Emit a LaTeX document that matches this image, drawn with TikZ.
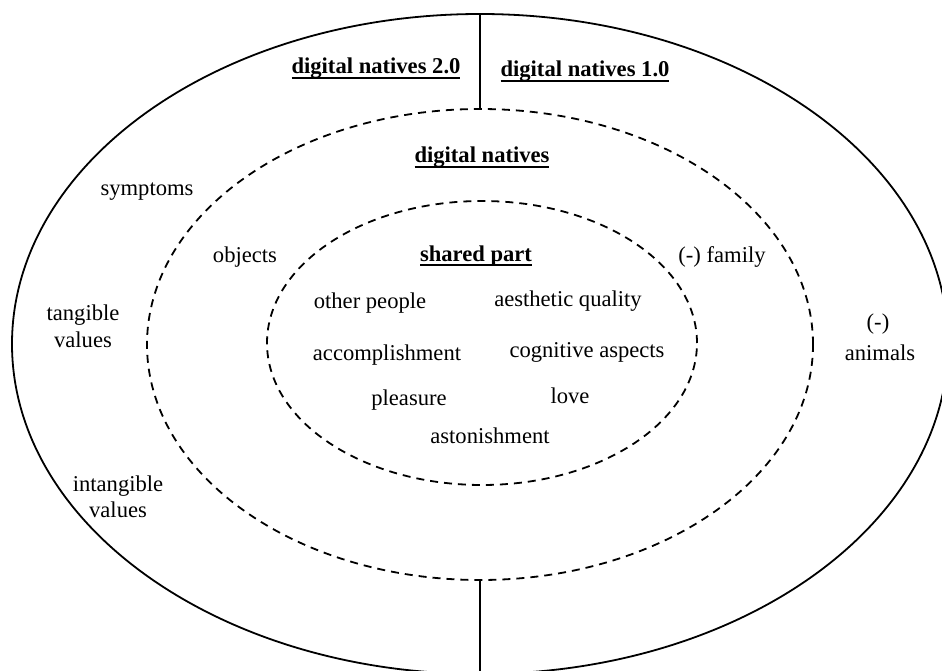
\documentclass[tikz,border=0pt]{standalone}
\usepackage{fontspec}
\setmainfont{Liberation Serif}
\usetikzlibrary{shapes.geometric}
\begin{document}
\begin{tikzpicture}[x=1pt,y=-1pt,
  every node/.style={inner sep=0pt, outer sep=0pt},
  lbl/.style={anchor=base, font=\fontsize{22.6}{27}\selectfont},
  ttl/.style={anchor=base, font=\fontsize{22.6}{27}\selectfont\bfseries},
  solidell/.style={ellipse, draw, line width=1.8pt},
  dashell/.style={ellipse, draw, line width=1.8pt, dash pattern=on 8pt off 6pt},
  divider/.style={line width=1.8pt},
  uline/.style={line width=2pt}]
\useasboundingbox (0,0) rectangle (942,671);
\node[solidell, minimum width=936pt, minimum height=660pt] (outer) at (480,344) {};
\node[dashell, minimum width=666pt, minimum height=471pt] (middle) at (480,344.5) {};
\node[dashell, minimum width=430pt, minimum height=284pt] (inner) at (482,343) {};
\draw[divider] (outer.north) -- (middle.north);
\draw[divider] (middle.south) -- (outer.south);
% titles
\node[ttl] (dn2) at (376,74) {digital natives 2.0};
\node[ttl] (dn1) at (585,77) {digital natives 1.0};
\node[ttl] (dn) at (482,163) {digital natives};
\node[ttl] (sp) at (476,261) {shared part};
\foreach \n in {dn2,dn1,dn,sp}{
  \draw[uline] ([yshift=-4pt]\n.base west) -- ([yshift=-4pt]\n.base east);
}
% outer ring
\node[lbl] (symptoms) at (147,196) {symptoms};
\node[lbl] (tang1) at (83,320) {tangible};
\node[lbl] (tang2) at (83,347) {values};
\node[lbl] (intang1) at (118,491) {intangible};
\node[lbl] (intang2) at (118,517) {values};
\node[lbl] (anim1) at (878,329) {(-)};
\node[lbl] (anim2) at (880,360) {animals};
% middle ring
\node[lbl] (objects) at (245,262) {objects};
\node[lbl] (family) at (722,262) {(-) family};
% inner
\node[lbl] (other) at (370,308) {other people};
\node[lbl] (aesth) at (568,306) {aesthetic quality};
\node[lbl] (accomp) at (387,360) {accomplishment};
\node[lbl] (cogn) at (587,357) {cognitive aspects};
\node[lbl] (pleas) at (409,405) {pleasure};
\node[lbl] (love) at (570,403) {love};
\node[lbl] (aston) at (490,443) {astonishment};
\end{tikzpicture}
\end{document}
